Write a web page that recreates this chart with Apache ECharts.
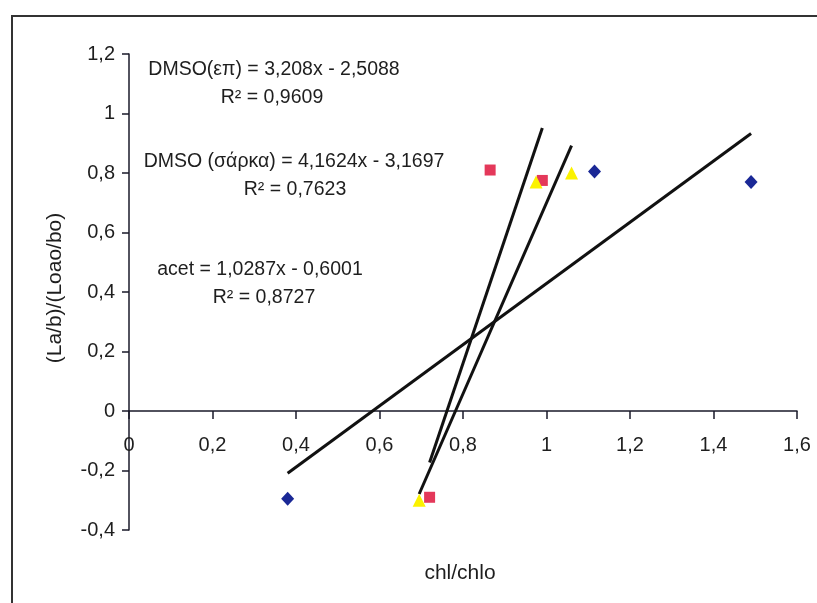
<!DOCTYPE html>
<html><head><meta charset="utf-8">
<script src="https://cdn.jsdelivr.net/npm/echarts@6/dist/echarts.min.js"></script>
<style>html,body{margin:0;padding:0;background:#fff}#c{width:817px;height:603px}</style>
</head><body><div id="c"></div>
<script>
// Data
const acetX = [0.38, 1.115, 1.49];
const acetY = [-0.295, 0.805, 0.77];
const sarkaX = [0.72, 0.865, 0.99];
const sarkaY = [-0.29, 0.81, 0.775];
const epX = [0.695, 0.975, 1.06];
const epY = [-0.30, 0.77, 0.80];
const acetTrend = [[0.38, -0.209], [1.49, 0.933]];
const sarkaTrend = [[0.72, -0.173], [0.99, 0.951]];
const epTrend = [[0.695, -0.279], [1.06, 0.892]];
const xTicks = [0, 0.2, 0.4, 0.6, 0.8, 1, 1.2, 1.4, 1.6];
const yTicks = [-0.4, -0.2, 0, 0.2, 0.4, 0.6, 0.8, 1, 1.2];
const labels = [
  ['DMSO(επ) = 3,208x - 2,5088', 'R² = 0,9609'],
  ['DMSO (σάρκα) = 4,1624x - 3,1697', 'R² = 0,7623'],
  ['acet = 1,0287x - 0,6001', 'R² = 0,8727']
];
const xTitle = 'chl/chlo';
const yTitle = '(La/b)/(Loao/bo)';

const zip = (a, b) => a.map((v, i) => [v, b[i]]);
const fmt = v => String(Math.round(v * 10) / 10).replace('.', ',');
const FONT = 'Liberation Sans, Arial, sans-serif';
const INK = '#1e1e1e';
const chart = echarts.init(document.getElementById('c'));
const lineStyle = {color: '#111', width: 3};
const txt = (x, y, t, size, rot) => ({type: 'text', x: x, y: y, rotation: rot || 0,
  style: {text: t, font: size + 'px ' + FONT, fill: INK, align: 'center', verticalAlign: 'middle'}});
chart.setOption({
  animation: false,
  backgroundColor: '#fff',
  grid: {left: 129, right: 20, top: 54, bottom: 73},
  xAxis: {
    type: 'value', min: 0, max: 1.6, interval: 0.2,
    axisLine: {onZero: true, lineStyle: {color: '#1a1a2a', width: 1.5}},
    axisTick: {length: 8, lineStyle: {color: '#1a1a2a', width: 1.5}},
    axisLabel: {show: false},
    splitLine: {show: false}
  },
  yAxis: {
    type: 'value', min: -0.4, max: 1.2, interval: 0.2,
    axisLine: {show: true, onZero: false, lineStyle: {color: '#1a1a2a', width: 1.5}},
    axisTick: {show: true, length: 7, lineStyle: {color: '#1a1a2a', width: 1.5}},
    axisLabel: {formatter: fmt, margin: 14, fontSize: 20, color: INK, fontFamily: FONT},
    splitLine: {show: false}
  },
  graphic: [
    {type: 'rect', shape: {x: 12, y: 16, width: 830, height: 620}, style: {fill: 'none', stroke: '#333', lineWidth: 2}, silent: true},
    txt(460, 573, xTitle, 21),
    txt(55, 288, yTitle, 21, Math.PI / 2),
    txt(274, 70, labels[0][0], 19.5), txt(272, 98, labels[0][1], 19.5),
    txt(294, 162, labels[1][0], 19.5), txt(295, 190, labels[1][1], 19.5),
    txt(260, 270, labels[2][0], 19.5), txt(264, 298, labels[2][1], 19.5)
  ],
  series: [
    {type: 'line', data: acetTrend, symbol: 'none', lineStyle: lineStyle, z: 2},
    {type: 'line', data: sarkaTrend, symbol: 'none', lineStyle: lineStyle, z: 2},
    {type: 'line', data: epTrend, symbol: 'none', lineStyle: lineStyle, z: 2},
    {type: 'scatter', data: zip(acetX, acetY), symbol: 'diamond', symbolSize: [13, 14], itemStyle: {color: '#1a2896', opacity: 1}, z: 3},
    {type: 'scatter', data: zip(sarkaX, sarkaY), symbol: 'rect', symbolSize: 11, itemStyle: {color: '#e4385a', opacity: 1}, z: 3},
    {type: 'scatter', data: zip(epX, epY), symbol: 'triangle', symbolSize: 13, itemStyle: {color: '#fbf200', opacity: 1}, z: 4},
    // x tick labels placed next to the zero-crossing axis line
    {type: 'scatter', data: xTicks.map(v => [v, 0]), symbolSize: 0, silent: true, z: 5,
      itemStyle: {opacity: 1},
      label: {show: true, position: 'bottom', distance: 24, formatter: p => fmt(p.value[0]),
        fontSize: 20, color: INK, fontFamily: FONT}}
  ]
});
</script></body></html>
